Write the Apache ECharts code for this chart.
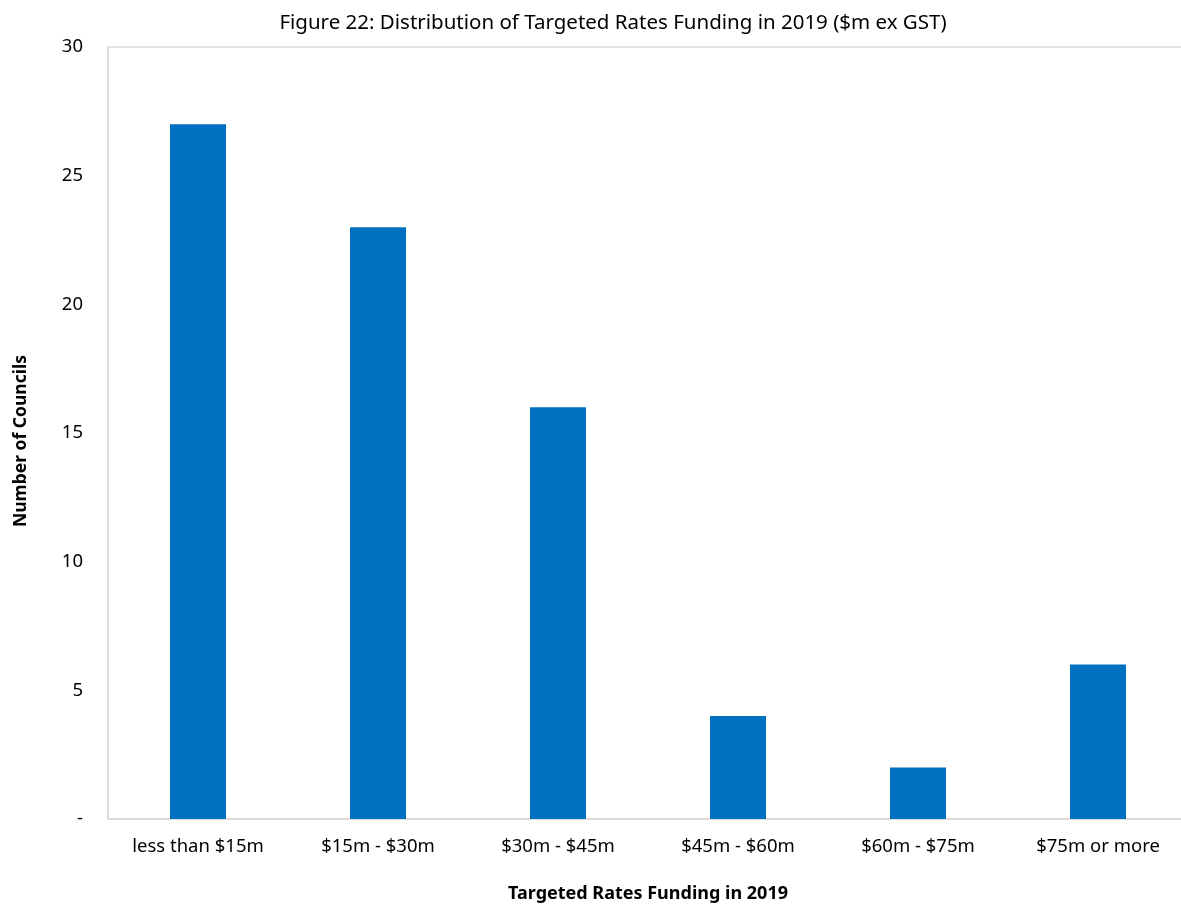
<!DOCTYPE html>
<html>
<head>
<meta charset="utf-8">
<script src="https://cdn.jsdelivr.net/npm/echarts@6/dist/echarts.min.js"></script>
<style>
  html, body { margin: 0; padding: 0; background: #fff; }
  #main { width: 1181px; height: 904px; }
</style>
</head>
<body>
<div id="main"></div>
<script>
const categories = ['less than $15m', '$15m - $30m', '$30m - $45m', '$45m - $60m', '$60m - $75m', '$75m or more'];
const councils = [27, 23, 16, 4, 2, 6];
const yTicks = { min: 0, max: 30, interval: 5 };

const font = '"Noto Sans", "Open Sans", sans-serif';
const chart = echarts.init(document.getElementById('main'));

chart.setOption({
    backgroundColor: '#fff',
    animation: false,
    title: {
        text: 'Figure 22: Distribution of Targeted Rates Funding in 2019 ($m ex GST)',
        left: 608,
        top: 8,
        textAlign: 'center',
        textStyle: { fontFamily: font, fontSize: 20.5, fontWeight: 'normal', color: '#000' }
    },
    grid: {
        left: 108, right: -7, top: 47, bottom: 85,
        outerBoundsMode: 'none',
        containLabel: false,
        show: true, borderColor: '#d9d9d9', borderWidth: 1.5
    },
    xAxis: {
        type: 'category',
        data: categories,
        name: 'Targeted Rates Funding in 2019',
        nameLocation: 'middle',
        nameGap: 66,
        nameTextStyle: { fontFamily: font, fontSize: 18, fontWeight: 'bold', color: '#000' },
        axisLine: { lineStyle: { color: '#d9d9d9', width: 1.5 } },
        axisTick: { show: false },
        axisLabel: { fontFamily: font, fontSize: 18.5, color: '#000', margin: 18, interval: 0 }
    },
    yAxis: {
        type: 'value',
        min: yTicks.min, max: yTicks.max, interval: yTicks.interval,
        name: 'Number of Councils',
        nameLocation: 'middle',
        nameGap: 78,
        nameTextStyle: { fontFamily: font, fontSize: 17.5, fontWeight: 'bold', color: '#000', padding: [0, 16, 0, 0] },
        axisLine: { show: true, lineStyle: { color: '#d9d9d9', width: 1.5 } },
        axisTick: { show: false },
        splitLine: { show: false },
        axisLabel: {
            fontFamily: font, fontSize: 18.5, color: '#000', margin: 25,
            formatter: v => v === 0 ? '-' : String(v)
        }
    },
    series: [{
        type: 'bar',
        data: councils,
        barWidth: 56,
        itemStyle: { color: '#0070C0' }
    }]
});
</script>
</body>
</html>
